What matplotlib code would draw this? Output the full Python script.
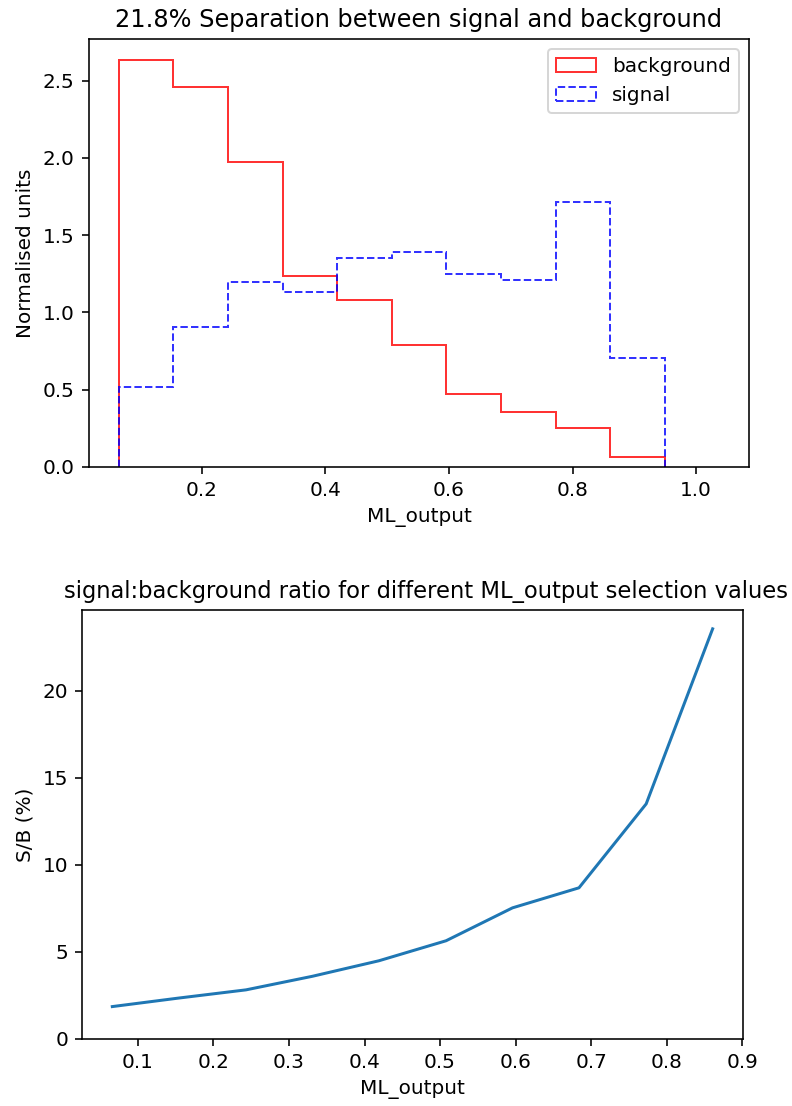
import matplotlib
matplotlib.use('Agg')
import matplotlib.pyplot as plt
import numpy as np

# ML_output bin edges
bin_edges = [0.066, 0.154, 0.243, 0.331, 0.419, 0.508,
             0.596, 0.684, 0.773, 0.861, 0.949]

# normalised histogram contents per bin
background = [2.636, 2.457, 1.974, 1.238, 1.082, 0.790,
              0.472, 0.356, 0.254, 0.061]
signal = [0.519, 0.905, 1.195, 1.132, 1.349, 1.392,
          1.249, 1.211, 1.712, 0.701]

# S/B (%) for a cut at each ML_output value
cut_values = bin_edges[:10]
sb_ratio = [1.86, 2.35, 2.82, 3.60, 4.49, 5.64, 7.53, 8.68, 13.5, 23.55]

separation = 21.8


def plotData():
    fig = plt.figure(figsize=(5.5, 1106 / 144), dpi=144)

    ax = fig.add_axes([0.112, 0.578, 0.834, 0.3865])
    centres = np.array(bin_edges[:-1]) + 0.5 * np.diff(bin_edges)
    ax.hist(centres, bins=bin_edges, weights=background, histtype='step',
            color='r', alpha=0.8, label='background')
    ax.hist(centres, bins=bin_edges, weights=signal, histtype='step',
            color='b', linestyle='--', alpha=0.8, label='signal')
    ax.set_title('%.1f%% Separation between signal and background' % separation)
    ax.set_xlabel('ML_output')
    ax.set_ylabel('Normalised units')
    ax.set_xlim(0.0173, 1.0857)
    ax.legend(loc='upper right')

    ax2 = fig.add_axes([0.1039, 0.0606, 0.8338, 0.3879])
    ax2.plot(cut_values, sb_ratio)
    ax2.set_title('signal:background ratio for different ML_output selection values',
                  fontsize=11.3, x=0.521)
    ax2.set_xlabel('ML_output')
    ax2.set_ylabel('S/B (%)')
    ax2.set_ylim(bottom=0)

    fig.savefig('out.png', dpi=144)


if __name__ == '__main__':
    plotData()
